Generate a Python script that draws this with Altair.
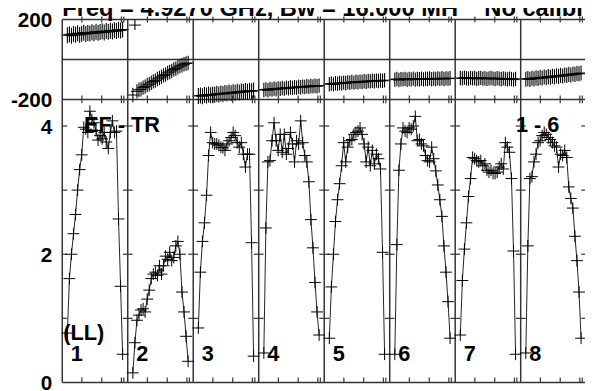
import altair as alt
import pandas as pd

# ---------------- data ----------------
if_names = ["1", "2", "3", "4", "5", "6", "7", "8"]
channels = list(range(3, 31))          # plotted channels of each IF (32 per IF)
chan_per_if = 32

amp_if1 = [0.77, 1.62, 2.00, 2.32, 2.62, 3.00, 3.32, 3.55, 3.98, 3.95, 3.90, 4.23, 4.10, 4.05,
           3.93, 3.78, 3.85, 3.80, 3.90, 3.75, 3.65, 3.90, 4.08, 3.90, 3.92, 2.55, 1.50, 0.44]
amp_if2 = [0.15, 0.62, 0.97, 1.05, 1.13, 1.15, 1.10, 1.30, 1.44, 1.62, 1.69, 1.72, 1.67, 1.82,
           1.69, 1.82, 1.97, 1.92, 2.03, 1.90, 1.95, 2.13, 2.20, 2.00, 1.41, 1.10, 0.72, 0.33]
amp_if3 = [0.85, 1.72, 2.20, 2.49, 2.92, 3.54, 3.90, 3.74, 3.72, 3.72, 3.70, 3.67, 3.66, 3.62,
           3.72, 3.77, 3.82, 3.90, 3.85, 3.74, 3.67, 3.74, 3.56, 3.36, 3.56, 3.56, 2.18, 0.41]
amp_if4 = [0.46, 2.41, 3.44, 3.46, 3.77, 4.05, 3.77, 3.62, 3.87, 3.59, 3.87, 3.56, 3.65, 3.90,
           3.72, 3.44, 3.77, 3.72, 4.08, 3.74, 3.54, 3.44, 3.13, 2.54, 2.10, 1.56, 1.10, 0.74]
amp_if5 = [0.69, 1.49, 2.00, 2.51, 2.85, 3.10, 3.38, 3.74, 3.44, 3.67, 3.77, 3.79, 3.87, 3.90,
           3.92, 3.97, 3.87, 3.72, 3.44, 3.67, 3.38, 3.62, 3.41, 3.56, 3.49, 3.33, 2.03, 0.44]
amp_if6 = [0.44, 2.15, 3.31, 3.72, 3.97, 3.92, 3.90, 3.97, 3.95, 4.00, 4.15, 3.77, 3.79, 3.72,
           3.69, 3.54, 3.46, 3.44, 3.67, 3.49, 3.30, 3.08, 2.85, 2.59, 2.13, 1.72, 1.26, 0.69]
amp_if7 = [0.74, 1.59, 2.08, 2.49, 2.90, 3.18, 3.51, 3.49, 3.46, 3.44, 3.46, 3.38, 3.41, 3.31,
           3.28, 3.31, 3.26, 3.26, 3.28, 3.36, 3.41, 3.33, 3.74, 3.67, 3.59, 3.18, 2.05, 0.44]
amp_if8 = [0.46, 2.13, 3.18, 3.21, 3.44, 3.56, 3.74, 3.77, 3.85, 3.90, 3.87, 3.82, 3.79, 3.74,
           3.69, 3.67, 3.36, 3.56, 3.54, 3.62, 3.51, 3.05, 2.87, 2.72, 2.28, 1.90, 1.41, 0.69]

ph_if1 = [121, 126, 119, 128, 124, 131, 123, 129, 134, 127, 132, 130, 136, 131,
          139, 133, 137, 141, 135, 142, 138, 144, 140, 146, 142, 148, 145, 150]
ph_if2 = [-178, None, -160, -152, -149, -141, -136, -128, -124, -117, -110, -106, -98, -93,
          -87, -80, -76, -68, -63, -57, -50, -46, -39, -33, -29, -24, -20, -18]
ph_if3 = [-183, -180, -184, -178, -181, -176, -179, -175, -177, -172, -175, -170, -173, -168,
          -171, -166, -169, -164, -167, -162, -165, -160, -163, -158, -161, -157, -159, -156]
ph_if4 = [-153, -150, -154, -148, -151, -146, -149, -145, -147, -143, -146, -141, -144, -140,
          -142, -139, -141, -137, -139, -136, -138, -134, -137, -133, -135, -132, -134, -131]
ph_if5 = [-124, -121, -125, -119, -122, -118, -120, -116, -119, -115, -117, -113, -116, -112,
          -114, -111, -113, -109, -112, -108, -110, -107, -109, -106, -108, -105, -107, -104]
ph_if6 = [-101, -98, -103, -99, -100, -97, -102, -98, -100, -96, -101, -97, -99, -96,
          -100, -97, -98, -95, -99, -96, -98, -95, -97, -94, -98, -95, -96, -94]
ph_if7 = [-93, -95, -91, -94, -96, -92, -95, -93, -97, -94, -92, -96, -94, -97,
          -95, -93, -96, -98, -94, -96, -99, -95, -97, -100, -96, -98, -101, -97]
ph_if8 = [-99, -96, -100, -94, -97, -92, -95, -90, -93, -88, -91, -86, -89, -84,
          -87, -82, -85, -80, -83, -78, -80, -75, -78, -73, -75, -70, -72, -68]
phase_err = [40, 36, 40, 36, 36, 36, 36, 38]

# wrapped phase point (IF 2, channel 4)
wrap_if = [1]
wrap_chan = [4]
wrap_phase = [172]
wrap_err = [25]

phase_tick_values = [200, -200]
phase_tick_text = ["200", "-200"]
amp_tick_values = [0, 2, 4]
amp_tick_text = ["0", "2", "4"]
amp_minor_ticks = [1, 2, 3, 4]
chan_tick_offsets = [9.6, 19.3, 28.9, 30.1]

title_text = "Freq = 4.9270 GHz, Bw = 16.000 MH\u00a0\u00a0\u00a0\u00a0No calibration applied"
annot_text = ["EF - TR", "1 - 6", "(LL)"]
annot_x = [10.6, 221.7, 0.5]
annot_amp = [3.90, 3.90, 0.67]

amp_by_if = [amp_if1, amp_if2, amp_if3, amp_if4, amp_if5, amp_if6, amp_if7, amp_if8]
ph_by_if = [ph_if1, ph_if2, ph_if3, ph_if4, ph_if5, ph_if6, ph_if7, ph_if8]

amp_rows, ph_rows = [], []
for i in range(len(if_names)):
    for c, a, p in zip(channels, amp_by_if[i], ph_by_if[i]):
        x = i * chan_per_if + c - 0.5
        amp_rows.append({"spw": if_names[i], "x": x, "amp": a})
        if p is not None:
            ph_rows.append({"spw": if_names[i], "x": x, "phase": p,
                            "lo": p - phase_err[i], "hi": p + phase_err[i]})
for i, c, p, e in zip(wrap_if, wrap_chan, wrap_phase, wrap_err):
    ph_rows.append({"spw": if_names[i], "x": i * chan_per_if + c - 0.5, "phase": p,
                    "lo": p - e, "hi": p + e})
amp_df = pd.DataFrame(amp_rows)
ph_df = pd.DataFrame(ph_rows)

n_if = len(if_names)
bounds_df = pd.DataFrame({"x": [i * chan_per_if for i in range(n_if + 1)]})
inner_bounds = pd.DataFrame([{"x": i * chan_per_if, "amp": v}
                             for i in range(1, n_if + 1) for v in amp_minor_ticks])
left_bounds = pd.DataFrame([{"x": 0, "amp": v} for v in amp_minor_ticks])
xticks_df = pd.DataFrame({"x": [i * chan_per_if + t for i in range(n_if) for t in chan_tick_offsets]})
iflab_df = pd.DataFrame({"x": [i * chan_per_if + 4.2 for i in range(n_if)],
                         "amp": [0.34] * n_if, "label": if_names})
annot_df = pd.DataFrame({"x": annot_x, "amp": annot_amp, "label": annot_text})

# ---------------- scales ----------------
PW = 531.2
X = alt.Scale(domain=[0, n_if * chan_per_if], range=[0, PW], nice=False, zero=False)
YP = alt.Scale(domain=[-200, 200], range=[81, 0], nice=False, zero=False)
YA = alt.Scale(domain=[0, 4.415], range=[368, 81], nice=False, zero=False)

FONT = "Liberation Sans"
FRAME = "#333333"

def xq(f="x"):
    return alt.X(f"{f}:Q", scale=X, axis=None)

# ---------------- phase panel ----------------
ph_frame = alt.Chart(pd.DataFrame({"phase": [200, 0, -200]})).mark_rule(
    color=FRAME, strokeWidth=1.5).encode(
    y=alt.Y("phase:Q", scale=YP, axis=None), x=alt.value(0), x2=alt.value(PW))

ph_err = alt.Chart(ph_df).mark_rule(color="black", strokeWidth=1.1).encode(
    x=xq(), y=alt.Y("lo:Q", scale=YP, axis=None), y2="hi:Q")

ph_arm = alt.Chart(ph_df).mark_point(
    shape="M-1,0L1,0", size=144, filled=False, color="black", strokeWidth=1, opacity=1).encode(
    x=xq(), y=alt.Y("phase:Q", scale=YP, axis=None))

top_ticks = alt.Chart(xticks_df).transform_calculate(phase="200").mark_point(
    shape="M0,-1L0,1", size=36, filled=False, color=FRAME, strokeWidth=1.2, opacity=1).encode(
    x=xq(), y=alt.Y("phase:Q", scale=YP, axis=None))

mid_ticks = alt.Chart(xticks_df).transform_calculate(phase="-200").mark_point(
    shape="M0,-1L0,1", size=64, filled=False, color=FRAME, strokeWidth=1.2, opacity=1).encode(
    x=xq(), y=alt.Y("phase:Q", scale=YP, axis=None))

ph_labels = alt.Chart(pd.DataFrame({"phase": phase_tick_values, "t": phase_tick_text})).mark_text(
    align="right", baseline="middle", dy=2, font=FONT, fontWeight="bold", fontSize=21,
    color="black").encode(
    x=alt.value(-10), y=alt.Y("phase:Q", scale=YP, axis=None), text="t:N")

phase_group = alt.layer(ph_frame, top_ticks, mid_ticks, ph_err, ph_arm, ph_labels)

# ---------------- amplitude panel ----------------
v_frame = alt.Chart(bounds_df).mark_rule(color=FRAME, strokeWidth=1.5).encode(
    x=xq(), y=alt.value(0), y2=alt.value(368))

bottom_frame = alt.Chart(pd.DataFrame({"amp": [0]})).mark_rule(
    color=FRAME, strokeWidth=1.5).encode(
    y=alt.Y("amp:Q", scale=YA, axis=None), x=alt.value(0), x2=alt.value(PW))

ytick_inner = alt.Chart(inner_bounds).mark_point(
    shape="M-1,0L1,0", size=100, filled=False, color=FRAME, strokeWidth=1.2, opacity=1).encode(
    x=xq(), y=alt.Y("amp:Q", scale=YA, axis=None))

ytick_left = alt.Chart(left_bounds).mark_point(
    shape="M0,0L1,0", size=100, filled=False, color=FRAME, strokeWidth=1.2, opacity=1).encode(
    x=xq(), y=alt.Y("amp:Q", scale=YA, axis=None))

bot_ticks = alt.Chart(xticks_df).transform_calculate(amp="0").mark_point(
    shape="M0,-1L0,0", size=100, filled=False, color=FRAME, strokeWidth=1.2, opacity=1).encode(
    x=xq(), y=alt.Y("amp:Q", scale=YA, axis=None))

amp_line = alt.Chart(amp_df).mark_line(color="#222222", strokeWidth=1).encode(
    x=xq(), y=alt.Y("amp:Q", scale=YA, axis=None), detail="spw:N")

amp_cross = alt.Chart(amp_df).mark_point(
    shape="M-1,0L1,0M0,-1L0,1", size=144, filled=False, color="black", strokeWidth=1,
    opacity=1).encode(
    x=xq(), y=alt.Y("amp:Q", scale=YA, axis=None))

amp_labels = alt.Chart(pd.DataFrame({"amp": amp_tick_values, "t": amp_tick_text})).mark_text(
    align="right", baseline="middle", dy=2, font=FONT, fontWeight="bold", fontSize=21,
    color="black").encode(
    x=alt.value(-10), y=alt.Y("amp:Q", scale=YA, axis=None), text="t:N")

if_labels = alt.Chart(iflab_df).mark_text(
    align="left", baseline="alphabetic", font=FONT, fontWeight="bold", fontSize=22,
    color="black").encode(
    x=xq(), y=alt.Y("amp:Q", scale=YA, axis=None), text="label:N")

annots = alt.Chart(annot_df).mark_text(
    align="left", baseline="alphabetic", font=FONT, fontWeight="bold", fontSize=22,
    color="black").encode(
    x=xq(), y=alt.Y("amp:Q", scale=YA, axis=None), text="label:N")

title = alt.Chart(pd.DataFrame({"t": [title_text]})).mark_text(
    align="left", baseline="alphabetic", font=FONT, fontWeight="bold", fontSize=24,
    color="black").encode(
    x=alt.value(0), y=alt.value(-4), text="t:N")

amp_group = alt.layer(v_frame, bottom_frame, ytick_inner, ytick_left, bot_ticks,
                      amp_line, amp_cross, amp_labels, if_labels, annots, title)

chart = alt.layer(phase_group, amp_group).resolve_scale(y="independent").properties(
    width=530, height=368,
    autosize=alt.AutoSizeParams(type="none"),
    padding={"left": 55, "top": 9, "right": 0, "bottom": 6},
    background="white",
).configure_view(stroke=None)

chart.save("out.html", embed_options={"renderer": "svg", "actions": False})
